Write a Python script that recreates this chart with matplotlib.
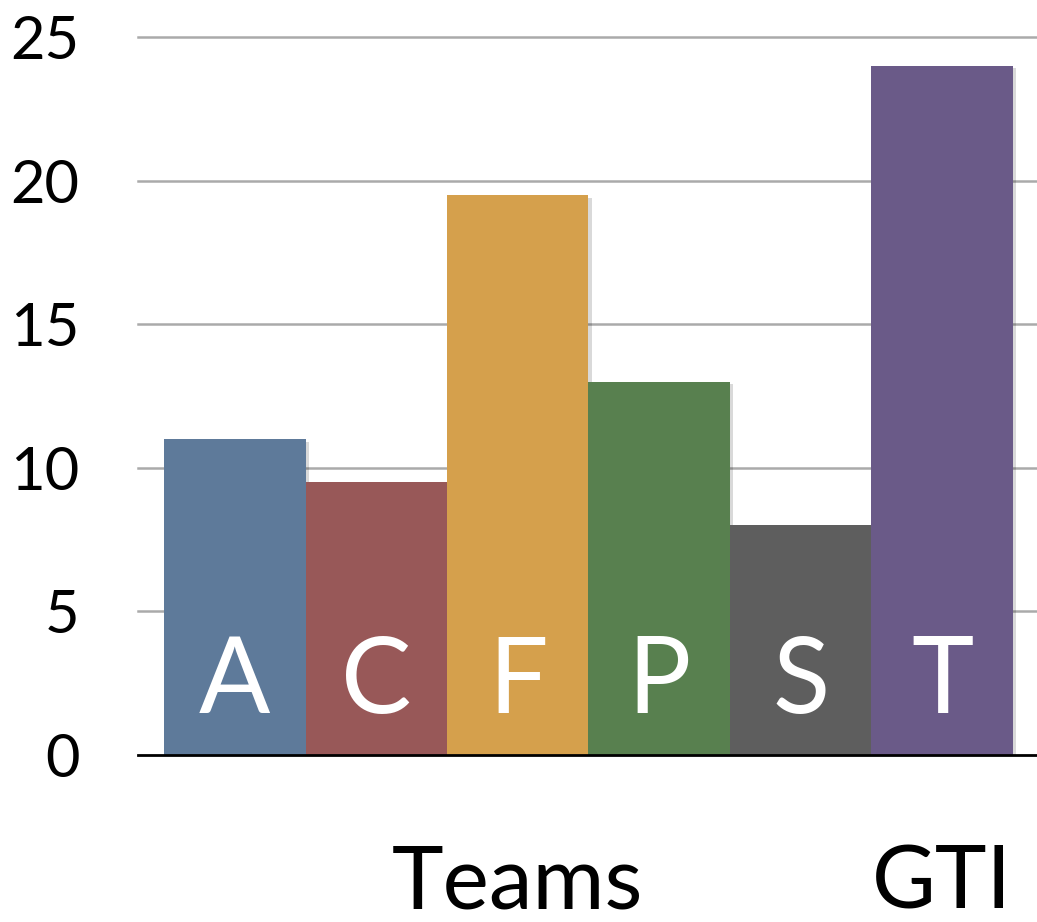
import matplotlib
matplotlib.use("Agg")
import matplotlib.pyplot as plt
import matplotlib.patheffects as pe

categories = ["A", "C", "F", "P", "S", "T"]
values = [11, 9.5, 19.5, 13, 8, 24]
colors = ["#5E7A9A", "#985858", "#D5A04C", "#58804F", "#5E5E5E", "#6A5A88"]
yticks = [0, 5, 10, 15, 20, 25]
group_labels = ["Teams", "GTI"]
group_positions = [2.0, 5.0]

plt.rcParams['font.family'] = ['Lato', 'DejaVu Sans']

fig = plt.figure(figsize=(10.37, 9.22), dpi=100)
ax = fig.add_axes([138/1037, 167/922, 1 - 138/1037, (755-37)/922])

x = list(range(len(categories)))
bars = ax.bar(x, values, width=1.0, color=colors, edgecolor='none', zorder=3)
for b in bars:
    b.set_path_effects([pe.SimplePatchShadow(offset=(2.5, -2), shadow_rgbFace='black', alpha=0.15), pe.Normal()])

for xi, lab in zip(x, categories):
    ax.text(xi, 1.46, lab, ha='center', va='baseline', color='white', fontsize=76, zorder=4)

ax.set_xlim(-0.684, 5.67)
ax.set_ylim(0, 25)
ax.set_yticks(yticks)
ax.set_yticklabels([str(t) for t in yticks], fontsize=43)
ax.tick_params(axis='y', length=0, pad=42)
ax.set_xticks([])
for s in ['top', 'right', 'left']:
    ax.spines[s].set_visible(False)
ax.spines['bottom'].set_linewidth(2)
ax.spines['bottom'].set_color('black')
ax.spines['bottom'].set_zorder(5)
for t in yticks[1:]:
    ax.axhline(t, color='#AAAAAA', linewidth=1.8, zorder=1, clip_on=False)

for gx, gl in zip(group_positions, group_labels):
    ax.text(gx, -5.33, gl, ha='center', va='baseline', fontsize=63, color='black', clip_on=False)

fig.savefig("out.png", dpi=100, facecolor='white')
